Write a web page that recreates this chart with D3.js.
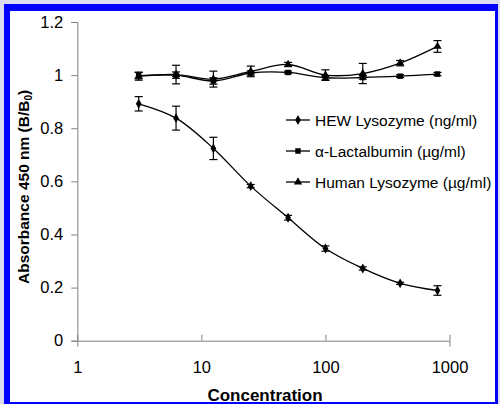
<!DOCTYPE html>
<html>
<head>
<meta charset="utf-8">
<script src="https://cdn.jsdelivr.net/npm/d3@7"></script>
<style>
body { margin: 0; background: #dcdcf0; }
text { font-family: "Liberation Sans", Arial, sans-serif; }
</style>
</head>
<body>
<div id="chart"></div>
<script>
// concentrations
var conc = [3.125, 6.25, 12.5, 25, 50, 100, 200, 400, 800];

var hew = [0.892, 0.838, 0.724, 0.582, 0.463, 0.347, 0.272, 0.216, 0.189];
var hewErr = [0.027, 0.045, 0.042, 0.006, 0.009, 0.01, 0.006, 0.004, 0.018];

var lact = [0.998, 1.0, 0.978, 1.008, 1.01, 0.99, 0.991, 0.996, 1.004];
var lactErr = [0.012, 0.012, 0.012, 0.008, 0.005, 0.008, 0.006, 0.005, 0.006];

var human = [0.996, 1.002, 0.985, 1.014, 1.04, 1.0, 1.006, 1.045, 1.108];
var humanErr = [0.015, 0.035, 0.03, 0.02, 0.008, 0.02, 0.038, 0.01, 0.022];

var legendNames = ["HEW Lysozyme (ng/ml)", "\u03b1-Lactalbumin (\u00b5g/ml)", "Human Lysozyme (\u00b5g/ml)"];
var yTicks = [0, 0.2, 0.4, 0.6, 0.8, 1, 1.2];
var xTicks = [1, 10, 100, 1000];

var w = 500, h = 404;
var svg = d3.select("#chart").append("svg")
    .attr("width", w)
    .attr("height", h);

// frame
svg.append("rect").attr("x", 4).attr("y", 4).attr("width", 494).attr("height", 400).attr("fill", "#0000ff");
svg.append("rect").attr("x", 10).attr("y", 11).attr("width", 485).attr("height", 391).attr("fill", "#fff");

var x = d3.scaleLog().domain([1, 1000]).range([77.3, 449.5]);
var y = d3.scaleLinear().domain([0, 1.2]).range([340.7, 22]);

var g = svg.append("g");

// axes
var yAxis = g.append("g")
    .attr("transform", "translate(77.3,0)")
    .call(d3.axisLeft(y).tickValues(yTicks).tickSize(6).tickFormat(d3.format("")));
var xAxis = g.append("g")
    .attr("transform", "translate(0,340.7)")
    .call(d3.axisBottom(x).tickValues(xTicks).tickSize(6).tickFormat(d3.format("")));

[xAxis, yAxis].forEach(function(a) {
    a.select(".domain").attr("stroke", "#808080");
    a.selectAll(".tick line").attr("stroke", "#808080");
    a.selectAll(".tick text").attr("fill", "#000").style("font-size", "16.5px")
        .style("font-family", "Liberation Sans, Arial, sans-serif");
});
yAxis.selectAll(".tick text").attr("x", -14);
xAxis.selectAll(".tick line").attr("y2", -6);
yAxis.selectAll(".tick line").attr("x2", -6);
xAxis.selectAll(".tick text").attr("y", 21);

// axis titles
g.append("text")
    .attr("x", 265).attr("y", 401)
    .attr("text-anchor", "middle")
    .style("font-size", "17px").style("font-weight", "bold")
    .text("Concentration");

// start anchored at the bottom end so the subscript tspans don't shift it
var yt = g.append("text")
    .attr("transform", "translate(29,284) rotate(-90)")
    .attr("text-anchor", "start")
    .style("font-size", "15.5px").style("font-weight", "bold");
yt.append("tspan").text("Absorbance 450 nm (B/B");
yt.append("tspan").attr("font-size", "10px").attr("dy", 3).text("0");
yt.append("tspan").attr("dy", -3).text(")");

var line = d3.line()
    .x(function(d) { return x(d[0]); })
    .y(function(d) { return y(d[1]); })
    .curve(d3.curveCatmullRom);

var series = [
    { vals: hew, err: hewErr, shape: d3.symbolDiamond, size: 28 },
    { vals: lact, err: lactErr, shape: d3.symbolSquare, size: 30 },
    { vals: human, err: humanErr, shape: d3.symbolTriangle, size: 30 }
];

series.forEach(function(s) {
    var pts = conc.map(function(c, i) { return [c, s.vals[i], s.err[i]]; });
    g.append("path").datum(pts)
        .attr("d", line)
        .attr("fill", "none")
        .attr("stroke", "#000")
        .attr("stroke-width", 1.3);

    var eb = g.append("g").selectAll("g").data(pts).enter().append("g");
    eb.append("line")
        .attr("x1", function(d) { return x(d[0]); })
        .attr("x2", function(d) { return x(d[0]); })
        .attr("y1", function(d) { return y(d[1] - d[2]); })
        .attr("y2", function(d) { return y(d[1] + d[2]); })
        .attr("stroke", "#000").attr("stroke-width", 1.2);
    [-1, 1].forEach(function(sign) {
        eb.append("line")
            .attr("x1", function(d) { return x(d[0]) - 4; })
            .attr("x2", function(d) { return x(d[0]) + 4; })
            .attr("y1", function(d) { return y(d[1] + sign * d[2]); })
            .attr("y2", function(d) { return y(d[1] + sign * d[2]); })
            .attr("stroke", "#000").attr("stroke-width", 1.2);
    });

    g.append("g").selectAll("path").data(pts).enter().append("path")
        .attr("d", d3.symbol().type(s.shape).size(s.size))
        .attr("transform", function(d) { return "translate(" + x(d[0]) + "," + y(d[1]) + ")"; })
        .attr("fill", "#000");
});

// legend
var leg = g.append("g").selectAll("g").data(legendNames).enter().append("g")
    .attr("transform", function(d, i) { return "translate(286," + (120 + i * 31) + ")"; });
leg.append("line").attr("x1", 0).attr("x2", 24).attr("y1", 0).attr("y2", 0)
    .attr("stroke", "#000").attr("stroke-width", 1.3);
leg.append("path")
    .attr("d", function(d, i) { return d3.symbol().type(series[i].shape).size(series[i].size)(); })
    .attr("transform", "translate(12,0)")
    .attr("fill", "#000");
leg.append("text")
    .attr("x", 29).attr("y", 6)
    .style("font-size", "15.5px")
    .text(function(d) { return d; });
</script>
</body>
</html>
